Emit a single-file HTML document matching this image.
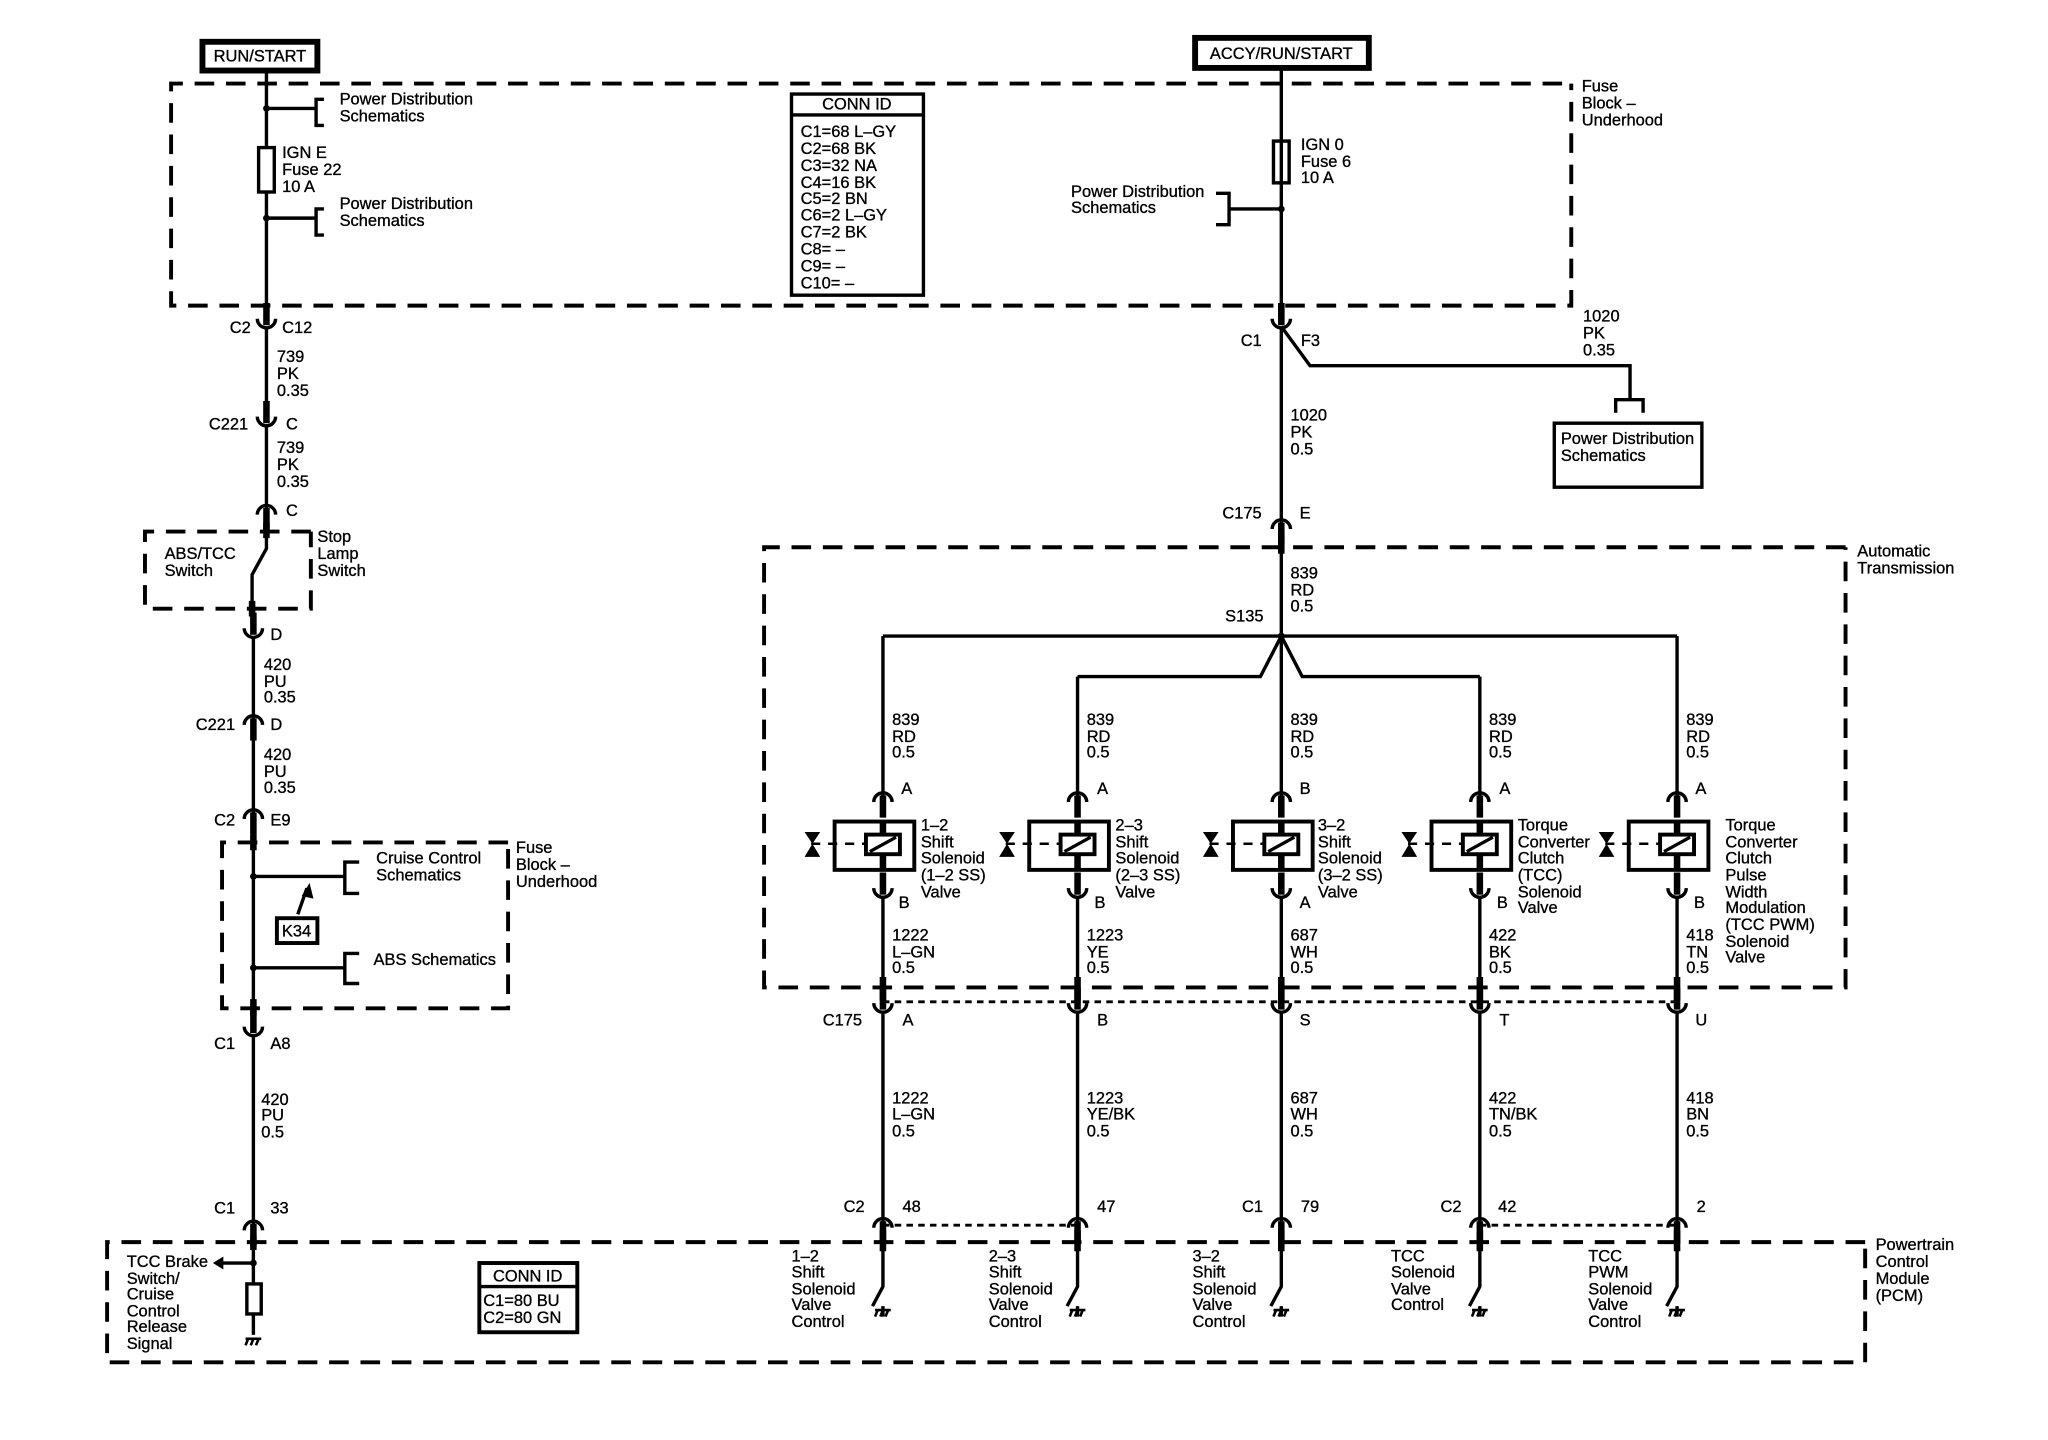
<!DOCTYPE html>
<html><head><meta charset="utf-8"><style>
html,body{margin:0;padding:0;background:#fff;}
svg{display:block;}
text{font-family:"Liberation Sans",sans-serif;font-size:12.6px;fill:#000;stroke:#000;stroke-width:0.25;}
</style></head><body>
<svg width="2048" height="1440" viewBox="0 0 1568 1102.5" preserveAspectRatio="none" xmlns="http://www.w3.org/2000/svg">
<defs>
<g id="cu"><path d="M-7,-2 A7,7 0 0 0 7,-2" fill="none" stroke="#000" stroke-width="2.6"/><line x1="0" y1="-14" x2="0" y2="3" stroke="#000" stroke-width="5"/></g>
<g id="cn"><path d="M-7,2 A7,7 0 0 1 7,2" fill="none" stroke="#000" stroke-width="2.6"/><line x1="0" y1="-3" x2="0" y2="14" stroke="#000" stroke-width="5"/></g>
<g id="gnd" stroke="#000" stroke-width="2" fill="none"><line x1="-6" y1="0" x2="6" y2="0"/><line x1="-4" y1="0" x2="-6" y2="5"/><line x1="0" y1="0" x2="-2" y2="5"/><line x1="4" y1="0" x2="2" y2="5"/></g>
<g id="sol">
<rect x="-37" y="-18" width="61" height="37" fill="#fff" stroke="#000" stroke-width="3"/>
<rect x="-13" y="-8" width="26" height="15" fill="#fff" stroke="#000" stroke-width="3"/>
<line x1="-10" y1="5" x2="10" y2="-6" stroke="#000" stroke-width="2.5"/>
<line x1="0" y1="-18" x2="0" y2="-8" stroke="#000" stroke-width="5"/>
<line x1="0" y1="7" x2="0" y2="19" stroke="#000" stroke-width="5"/>
<line x1="-55" y1="-1" x2="-13" y2="-1" stroke="#000" stroke-width="2" stroke-dasharray="7 6"/>
<path d="M-60,-10 L-48,-10 L-54,-1 Z M-60,9 L-48,9 L-54,-1 Z" fill="#000"/>
</g>
</defs>
<g fill="none" stroke="#000">
<!-- source boxes -->
<rect x="155" y="32" width="88" height="22" stroke-width="4.5"/>
<rect x="915" y="29" width="133" height="23" stroke-width="4.5"/>
<!-- dashed boxes -->
<g stroke-width="3" stroke-dasharray="15 9">
<path d="M1196,64 H131 V234 H1203 V64"/>
<path d="M238,407 H111 V466 H238 V407"/>
<path d="M389,645 H170 V772 H389 V645"/>
<path d="M1413,419 H585 V756 H1413 V419"/>
<path d="M1428,951 H82 V1043 H1428 V951"/>
</g>
<g stroke-width="2.2" stroke-dasharray="5 4">
<path d="M676,767 H1284"/>
<path d="M676,938 H825"/>
<path d="M1133,938 H1284"/>
</g>
<!-- left main wire -->
<g stroke-width="2.6">
<path d="M204,54 V244"/>
<path d="M204,252 V319"/>
<path d="M204,327 V390"/>
<path d="M204,394 V420 L193,440 V479"/>
<path d="M194,487 V551"/>
<path d="M194,555 V623"/>
<path d="M194,627 V784"/>
<path d="M194,792 V938"/>
<path d="M194,942 V983 M194,1006 V1022"/>
<path d="M204,83 H242 M248,76 H242 V96 H248"/>
<path d="M204,167 H242 M248,160 H242 V180 H248"/>
<path d="M194,671 H264 M275,660 H264 V684 H275"/>
<path d="M194,741 H264 M275,730 H264 V753 H275"/>
<path d="M194,967 H170"/>
<rect x="189" y="983" width="11" height="23"/>
<path d="M228,700 L235,680"/>
<rect x="212" y="703" width="31" height="19" stroke-width="3"/>
</g>
<g stroke-width="5"><path d="M204,400 V412 M193,460 V472"/><path d="M194,639 V651 M194,765 V778"/><path d="M194,946 V957"/></g>
<!-- fuses -->
<rect x="198" y="113" width="12" height="34" stroke-width="2.6" fill="#fff"/>
<rect x="975" y="108" width="12" height="32" stroke-width="2.6" fill="#fff"/>
<!-- right main wire -->
<g stroke-width="2.6">
<path d="M981,52 V242"/>
<path d="M981,250 V401"/>
<path d="M981,405 V487"/>
<path d="M981,160 H941 M931,148 H941 V172 H931"/>
<path d="M981,250 L1003,280 H1248 V306 M1237,316 V306 H1258 V316"/>
<rect x="1190" y="324" width="113" height="49"/>
<rect x="606" y="72" width="101" height="154"/>
<path d="M606,88 H707"/>
<rect x="367" y="967" width="75" height="53" stroke-width="3"/>
<path d="M367,985 H442"/>
<!-- bus -->
<path d="M676,487 H1284"/>
<path d="M981,487 L965,518 H825 M981,487 L997,518 H1133"/>
<path d="M981,487 V612"/>
<path d="M676,487 V612 M825,518 V612 M1133,518 V612 M1284,487 V612"/>
<path d="M676,686 V766 M825,686 V766 M981,686 V766 M1133,686 V766 M1284,686 V766"/>
<path d="M676,774 V936 M825,774 V936 M981,774 V936 M1133,774 V936 M1284,774 V936"/>
<path d="M676,950 V985 L668,1000 M825,950 V985 L817,1000 M981,950 V985 L973,1000 M1133,950 V985 L1125,1000 M1284,950 V985 L1276,1000"/>
<path d="M676,1000 V1008 M825,1000 V1008 M981,1000 V1008 M1133,1000 V1008 M1284,1000 V1008"/>
</g>
<g stroke-width="5"><path d="M981,232 V246 M981,409 V424"/></g>
<g stroke-width="5"><path d="M676,748 V766 M825,748 V766 M981,748 V766 M1133,748 V766 M1284,748 V766"/><path d="M676,942 V958 M825,942 V958 M981,942 V958 M1133,942 V958 M1284,942 V958"/></g>
</g>
<!-- dots -->
<g fill="#000"><circle cx="204" cy="83" r="2.6"/><circle cx="204" cy="167" r="2.6"/><circle cx="981" cy="160" r="2.6"/><circle cx="981" cy="487" r="2.6"/><circle cx="194" cy="671" r="2.6"/><circle cx="194" cy="741" r="2.6"/><circle cx="194" cy="967" r="2.6"/>
<path d="M163,967 L171,962 L171,972 Z"/><path d="M237,676 L231,686 L240,688 Z"/></g>
<!-- connectors -->
<use href="#cu" x="204" y="246"/><use href="#cu" x="204" y="321"/><use href="#cn" x="204" y="392"/>
<use href="#cu" x="194" y="483"/><use href="#cn" x="194" y="553"/><use href="#cn" x="194" y="625"/>
<use href="#cu" x="194" y="788"/><use href="#cn" x="194" y="940"/>
<use href="#cu" x="981" y="246"/><use href="#cn" x="981" y="403"/>
<g>
<use href="#cn" x="676" y="612"/><use href="#cn" x="825" y="612"/><use href="#cn" x="981" y="612"/><use href="#cn" x="1133" y="612"/><use href="#cn" x="1284" y="612"/>
<use href="#cu" x="676" y="682"/><use href="#cu" x="825" y="682"/><use href="#cu" x="981" y="682"/><use href="#cu" x="1133" y="682"/><use href="#cu" x="1284" y="682"/>
<use href="#cu" x="676" y="770"/><use href="#cu" x="825" y="770"/><use href="#cu" x="981" y="770"/><use href="#cu" x="1133" y="770"/><use href="#cu" x="1284" y="770"/>
<use href="#cn" x="676" y="938"/><use href="#cn" x="825" y="938"/><use href="#cn" x="981" y="938"/><use href="#cn" x="1133" y="938"/><use href="#cn" x="1284" y="938"/>
<use href="#sol" x="676" y="647"/><use href="#sol" x="825" y="647"/><use href="#sol" x="981" y="647"/><use href="#sol" x="1133" y="647"/><use href="#sol" x="1284" y="647"/>
</g>
<g fill="#000" stroke="none"><use href="#gnd" x="194" y="1025"/><use href="#gnd" x="676" y="1003"/><use href="#gnd" x="825" y="1003"/><use href="#gnd" x="981" y="1003"/><use href="#gnd" x="1133" y="1003"/><use href="#gnd" x="1284" y="1003"/></g>
<!-- text -->
<text x="199" y="47" text-anchor="middle">RUN/START</text>
<text x="981" y="45" text-anchor="middle">ACCY/RUN/START</text>
<text x="260" y="80">Power Distribution</text><text x="260" y="93">Schematics</text>
<text x="260" y="160">Power Distribution</text><text x="260" y="173">Schematics</text>
<text x="216" y="121">IGN E</text><text x="216" y="134">Fuse 22</text><text x="216" y="147">10 A</text>
<text x="656" y="84" text-anchor="middle">CONN ID</text>
<text x="613" y="105">C1=68 L–GY</text><text x="613" y="118">C2=68 BK</text><text x="613" y="131">C3=32 NA</text><text x="613" y="144">C4=16 BK</text><text x="613" y="156">C5=2 BN</text><text x="613" y="169">C6=2 L–GY</text><text x="613" y="182">C7=2 BK</text><text x="613" y="195">C8= –</text><text x="613" y="208">C9= –</text><text x="613" y="221">C10= –</text>
<text x="996" y="115">IGN 0</text><text x="996" y="128">Fuse 6</text><text x="996" y="140">10 A</text>
<text x="820" y="151">Power Distribution</text><text x="820" y="163">Schematics</text>
<text x="1211" y="70">Fuse</text><text x="1211" y="83">Block –</text><text x="1211" y="96">Underhood</text>
<text x="192" y="255" text-anchor="end">C2</text><text x="216" y="255">C12</text>
<text x="212" y="277">739</text><text x="212" y="290">PK</text><text x="212" y="303">0.35</text>
<text x="190" y="329" text-anchor="end">C221</text><text x="219" y="329">C</text>
<text x="212" y="347">739</text><text x="212" y="360">PK</text><text x="212" y="373">0.35</text>
<text x="219" y="395">C</text>
<text x="126" y="428">ABS/TCC</text><text x="126" y="441">Switch</text>
<text x="243" y="415">Stop</text><text x="243" y="428">Lamp</text><text x="243" y="441">Switch</text>
<text x="207" y="490">D</text>
<text x="202" y="513">420</text><text x="202" y="526">PU</text><text x="202" y="538">0.35</text>
<text x="180" y="559" text-anchor="end">C221</text><text x="207" y="559">D</text>
<text x="202" y="582">420</text><text x="202" y="595">PU</text><text x="202" y="607">0.35</text>
<text x="180" y="632" text-anchor="end">C2</text><text x="207" y="632">E9</text>
<text x="395" y="653">Fuse</text><text x="395" y="666">Block –</text><text x="395" y="679">Underhood</text>
<text x="288" y="661">Cruise Control</text><text x="288" y="674">Schematics</text>
<text x="286" y="739">ABS Schematics</text>
<text x="227" y="717" text-anchor="middle">K34</text>
<text x="180" y="803" text-anchor="end">C1</text><text x="207" y="803">A8</text>
<text x="200" y="846">420</text><text x="200" y="858">PU</text><text x="200" y="871">0.5</text>
<text x="180" y="929" text-anchor="end">C1</text><text x="207" y="929">33</text>
<text x="97" y="970">TCC Brake</text><text x="97" y="983">Switch/</text><text x="97" y="995">Cruise</text><text x="97" y="1008">Control</text><text x="97" y="1020">Release</text><text x="97" y="1033">Signal</text>
<text x="404" y="981" text-anchor="middle">CONN ID</text><text x="370" y="1000">C1=80 BU</text><text x="370" y="1013">C2=80 GN</text>
<text x="1436" y="957">Powertrain</text><text x="1436" y="970">Control</text><text x="1436" y="983">Module</text><text x="1436" y="996">(PCM)</text>
<text x="966" y="265" text-anchor="end">C1</text><text x="996" y="265">F3</text>
<text x="1212" y="246">1020</text><text x="1212" y="259">PK</text><text x="1212" y="272">0.35</text>
<text x="1195" y="340">Power Distribution</text><text x="1195" y="353">Schematics</text>
<text x="988" y="322">1020</text><text x="988" y="335">PK</text><text x="988" y="348">0.5</text>
<text x="966" y="397" text-anchor="end">C175</text><text x="995" y="397">E</text>
<text x="1422" y="426">Automatic</text><text x="1422" y="439">Transmission</text>
<text x="988" y="443">839</text><text x="988" y="456">RD</text><text x="988" y="468">0.5</text>
<text x="938" y="476">S135</text>
<!-- columns -->
<g>
<text x="683" y="555">839</text><text x="683" y="568">RD</text><text x="683" y="580">0.5</text>
<text x="832" y="555">839</text><text x="832" y="568">RD</text><text x="832" y="580">0.5</text>
<text x="988" y="555">839</text><text x="988" y="568">RD</text><text x="988" y="580">0.5</text>
<text x="1140" y="555">839</text><text x="1140" y="568">RD</text><text x="1140" y="580">0.5</text>
<text x="1291" y="555">839</text><text x="1291" y="568">RD</text><text x="1291" y="580">0.5</text>
<text x="690" y="608">A</text><text x="840" y="608">A</text><text x="995" y="608">B</text><text x="1148" y="608">A</text><text x="1298" y="608">A</text>
<text x="688" y="695">B</text><text x="838" y="695">B</text><text x="995" y="695">A</text><text x="1146" y="695">B</text><text x="1297" y="695">B</text>
<text x="705" y="636">1–2</text><text x="705" y="649">Shift</text><text x="705" y="661">Solenoid</text><text x="705" y="674">(1–2 SS)</text><text x="705" y="687">Valve</text>
<text x="854" y="636">2–3</text><text x="854" y="649">Shift</text><text x="854" y="661">Solenoid</text><text x="854" y="674">(2–3 SS)</text><text x="854" y="687">Valve</text>
<text x="1009" y="636">3–2</text><text x="1009" y="649">Shift</text><text x="1009" y="661">Solenoid</text><text x="1009" y="674">(3–2 SS)</text><text x="1009" y="687">Valve</text>
<text x="1162" y="636">Torque</text><text x="1162" y="649">Converter</text><text x="1162" y="661">Clutch</text><text x="1162" y="674">(TCC)</text><text x="1162" y="687">Solenoid</text><text x="1162" y="699">Valve</text>
<text x="1321" y="636">Torque</text><text x="1321" y="649">Converter</text><text x="1321" y="661">Clutch</text><text x="1321" y="674">Pulse</text><text x="1321" y="687">Width</text><text x="1321" y="699">Modulation</text><text x="1321" y="712">(TCC PWM)</text><text x="1321" y="725">Solenoid</text><text x="1321" y="737">Valve</text>
<text x="683" y="720">1222</text><text x="683" y="733">L–GN</text><text x="683" y="745">0.5</text>
<text x="832" y="720">1223</text><text x="832" y="733">YE</text><text x="832" y="745">0.5</text>
<text x="988" y="720">687</text><text x="988" y="733">WH</text><text x="988" y="745">0.5</text>
<text x="1140" y="720">422</text><text x="1140" y="733">BK</text><text x="1140" y="745">0.5</text>
<text x="1291" y="720">418</text><text x="1291" y="733">TN</text><text x="1291" y="745">0.5</text>
<text x="660" y="785" text-anchor="end">C175</text><text x="691" y="785">A</text><text x="840" y="785">B</text><text x="995" y="785">S</text><text x="1148" y="785">T</text><text x="1298" y="785">U</text>
<text x="683" y="845">1222</text><text x="683" y="857">L–GN</text><text x="683" y="870">0.5</text>
<text x="832" y="845">1223</text><text x="832" y="857">YE/BK</text><text x="832" y="870">0.5</text>
<text x="988" y="845">687</text><text x="988" y="857">WH</text><text x="988" y="870">0.5</text>
<text x="1140" y="845">422</text><text x="1140" y="857">TN/BK</text><text x="1140" y="870">0.5</text>
<text x="1291" y="845">418</text><text x="1291" y="857">BN</text><text x="1291" y="870">0.5</text>
<text x="662" y="928" text-anchor="end">C2</text><text x="691" y="928">48</text><text x="840" y="928">47</text>
<text x="967" y="928" text-anchor="end">C1</text><text x="996" y="928">79</text>
<text x="1119" y="928" text-anchor="end">C2</text><text x="1147" y="928">42</text><text x="1299" y="928">2</text>
<text x="606" y="966">1–2</text><text x="606" y="978">Shift</text><text x="606" y="991">Solenoid</text><text x="606" y="1003">Valve</text><text x="606" y="1016">Control</text>
<text x="757" y="966">2–3</text><text x="757" y="978">Shift</text><text x="757" y="991">Solenoid</text><text x="757" y="1003">Valve</text><text x="757" y="1016">Control</text>
<text x="913" y="966">3–2</text><text x="913" y="978">Shift</text><text x="913" y="991">Solenoid</text><text x="913" y="1003">Valve</text><text x="913" y="1016">Control</text>
<text x="1065" y="966">TCC</text><text x="1065" y="978">Solenoid</text><text x="1065" y="991">Valve</text><text x="1065" y="1003">Control</text>
<text x="1216" y="966">TCC</text><text x="1216" y="978">PWM</text><text x="1216" y="991">Solenoid</text><text x="1216" y="1003">Valve</text><text x="1216" y="1016">Control</text>
</g>
</svg>
</body></html>
